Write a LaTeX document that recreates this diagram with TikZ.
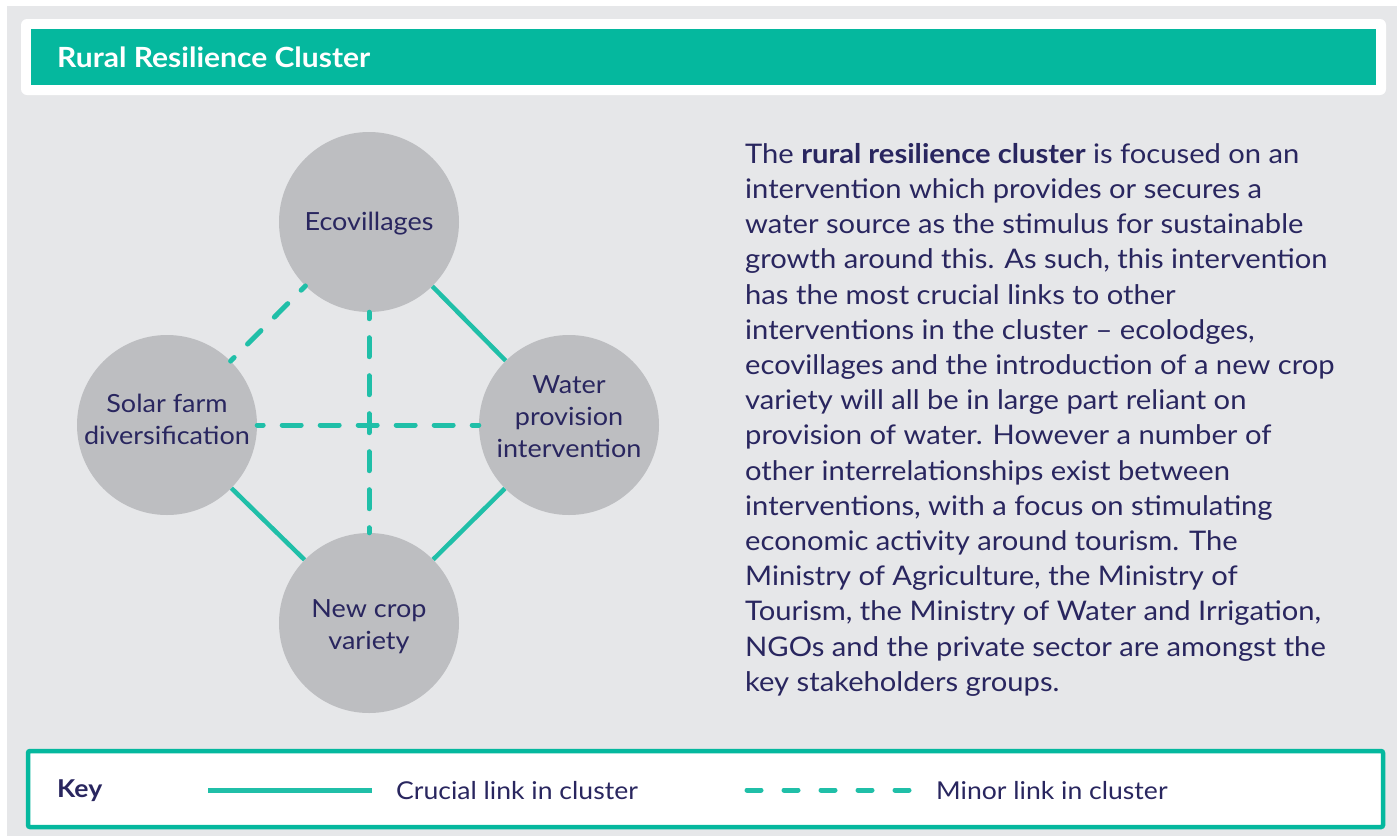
\documentclass[tikz,border=0pt]{standalone}
\usepackage{fontspec}
\setmainfont{Lato}[FakeStretch=1.08]
\definecolor{bggray}{HTML}{E6E7E9}
\definecolor{teal}{HTML}{05B89E}
\definecolor{linkteal}{HTML}{20BFA8}
\definecolor{circgray}{HTML}{BDBEC1}
\definecolor{navy}{HTML}{29265F}
\begin{document}
\begin{tikzpicture}[x=1pt,y=-1pt,
  bubble/.style={circle,fill=circgray,minimum size=180pt,inner sep=0pt},
  bubbletext/.style={text=navy,align=center,inner sep=0pt,font=\fontsize{25}{32}\selectfont},
  crucial/.style={draw=linkteal,line width=4.5pt},
  minor/.style={draw=linkteal,line width=5pt,line cap=round,dash pattern=on 19pt off 19pt,dash phase=13pt},
  label/.style={text=navy,inner sep=0pt,anchor=west,font=\fontsize{24.6}{30}\selectfont}
]
\useasboundingbox (0,0) rectangle (1397,836);
\fill[white] (0,0) rectangle (1397,836);
\fill[bggray] (7,6) rectangle (1397,836);
% title
\fill[white,rounded corners=6pt] (21,19) rectangle (1386,95);
\fill[teal] (31,29) rectangle (1376,85);
\node[anchor=west,text=white,inner sep=0pt,font=\fontsize{27.8}{30}\selectfont\bfseries] (title) at (57,57) {Rural Resilience Cluster};
% bubbles
\node[bubble] (eco) at (369,222) {};
\node[bubble] (solar) at (167,425) {};
\node[bubble] (water) at (569,425) {};
\node[bubble] (crop) at (369,623) {};
\node[bubbletext] (ecotxt) at (369,224) {Ecovillages};
\node[bubbletext] (solartxt) at (167,419) {Solar farm\\diversification};
\node[bubbletext] (watertxt) at (569,417) {Water\\provision\\intervention};
\node[bubbletext] (croptxt) at (369,627) {New crop\\variety};
% links
\draw[crucial] (eco) -- (water);
\draw[crucial] (solar) -- (crop);
\draw[crucial] (water) -- (crop);
\draw[minor] (eco) -- (solar);
\draw[minor,dash phase=12.5pt] (eco) -- (crop);
\draw[minor] (solar) -- (water);
% text
\node[anchor=north west,inner sep=0pt,text=navy,align=left,font=\fontsize{27}{35.2}\selectfont] (body) at (745,143) {%
The \textbf{rural resilience cluster} is focused on an\\
intervention which provides or secures a\\
water source as the stimulus for sustainable\\
growth around this. As such, this intervention\\
has the most crucial links to other\\
interventions in the cluster – ecolodges,\\
ecovillages and the introduction of a new crop\\
variety will all be in large part reliant on\\
provision of water. However a number of\\
other interrelationships exist between\\
interventions, with a focus on stimulating\\
economic activity around tourism. The\\
Ministry of Agriculture, the Ministry of\\
Tourism, the Ministry of Water and Irrigation,\\
NGOs and the private sector are amongst the\\
key stakeholders groups.};
% key
\draw[teal,line width=4.5pt,fill=white,rounded corners=2pt] (28,751) rectangle (1383,827);
\node[label,font=\fontsize{24.6}{30}\selectfont\bfseries] (key) at (57,791) {Key};
\coordinate (c1) at (208,790);
\coordinate (c2) at (372,790);
\draw[crucial,line width=5pt] (c1) -- (c2);
\node[label] (crucialtxt) at (396,791) {Crucial link in cluster};
\coordinate (m1) at (747,790);
\coordinate (m2) at (909,790);
\draw[minor,dash pattern=on 14pt off 23pt,dash phase=0pt] (m1) -- (m2);
\node[label] (minortxt) at (936,791) {Minor link in cluster};
\end{tikzpicture}
\end{document}
